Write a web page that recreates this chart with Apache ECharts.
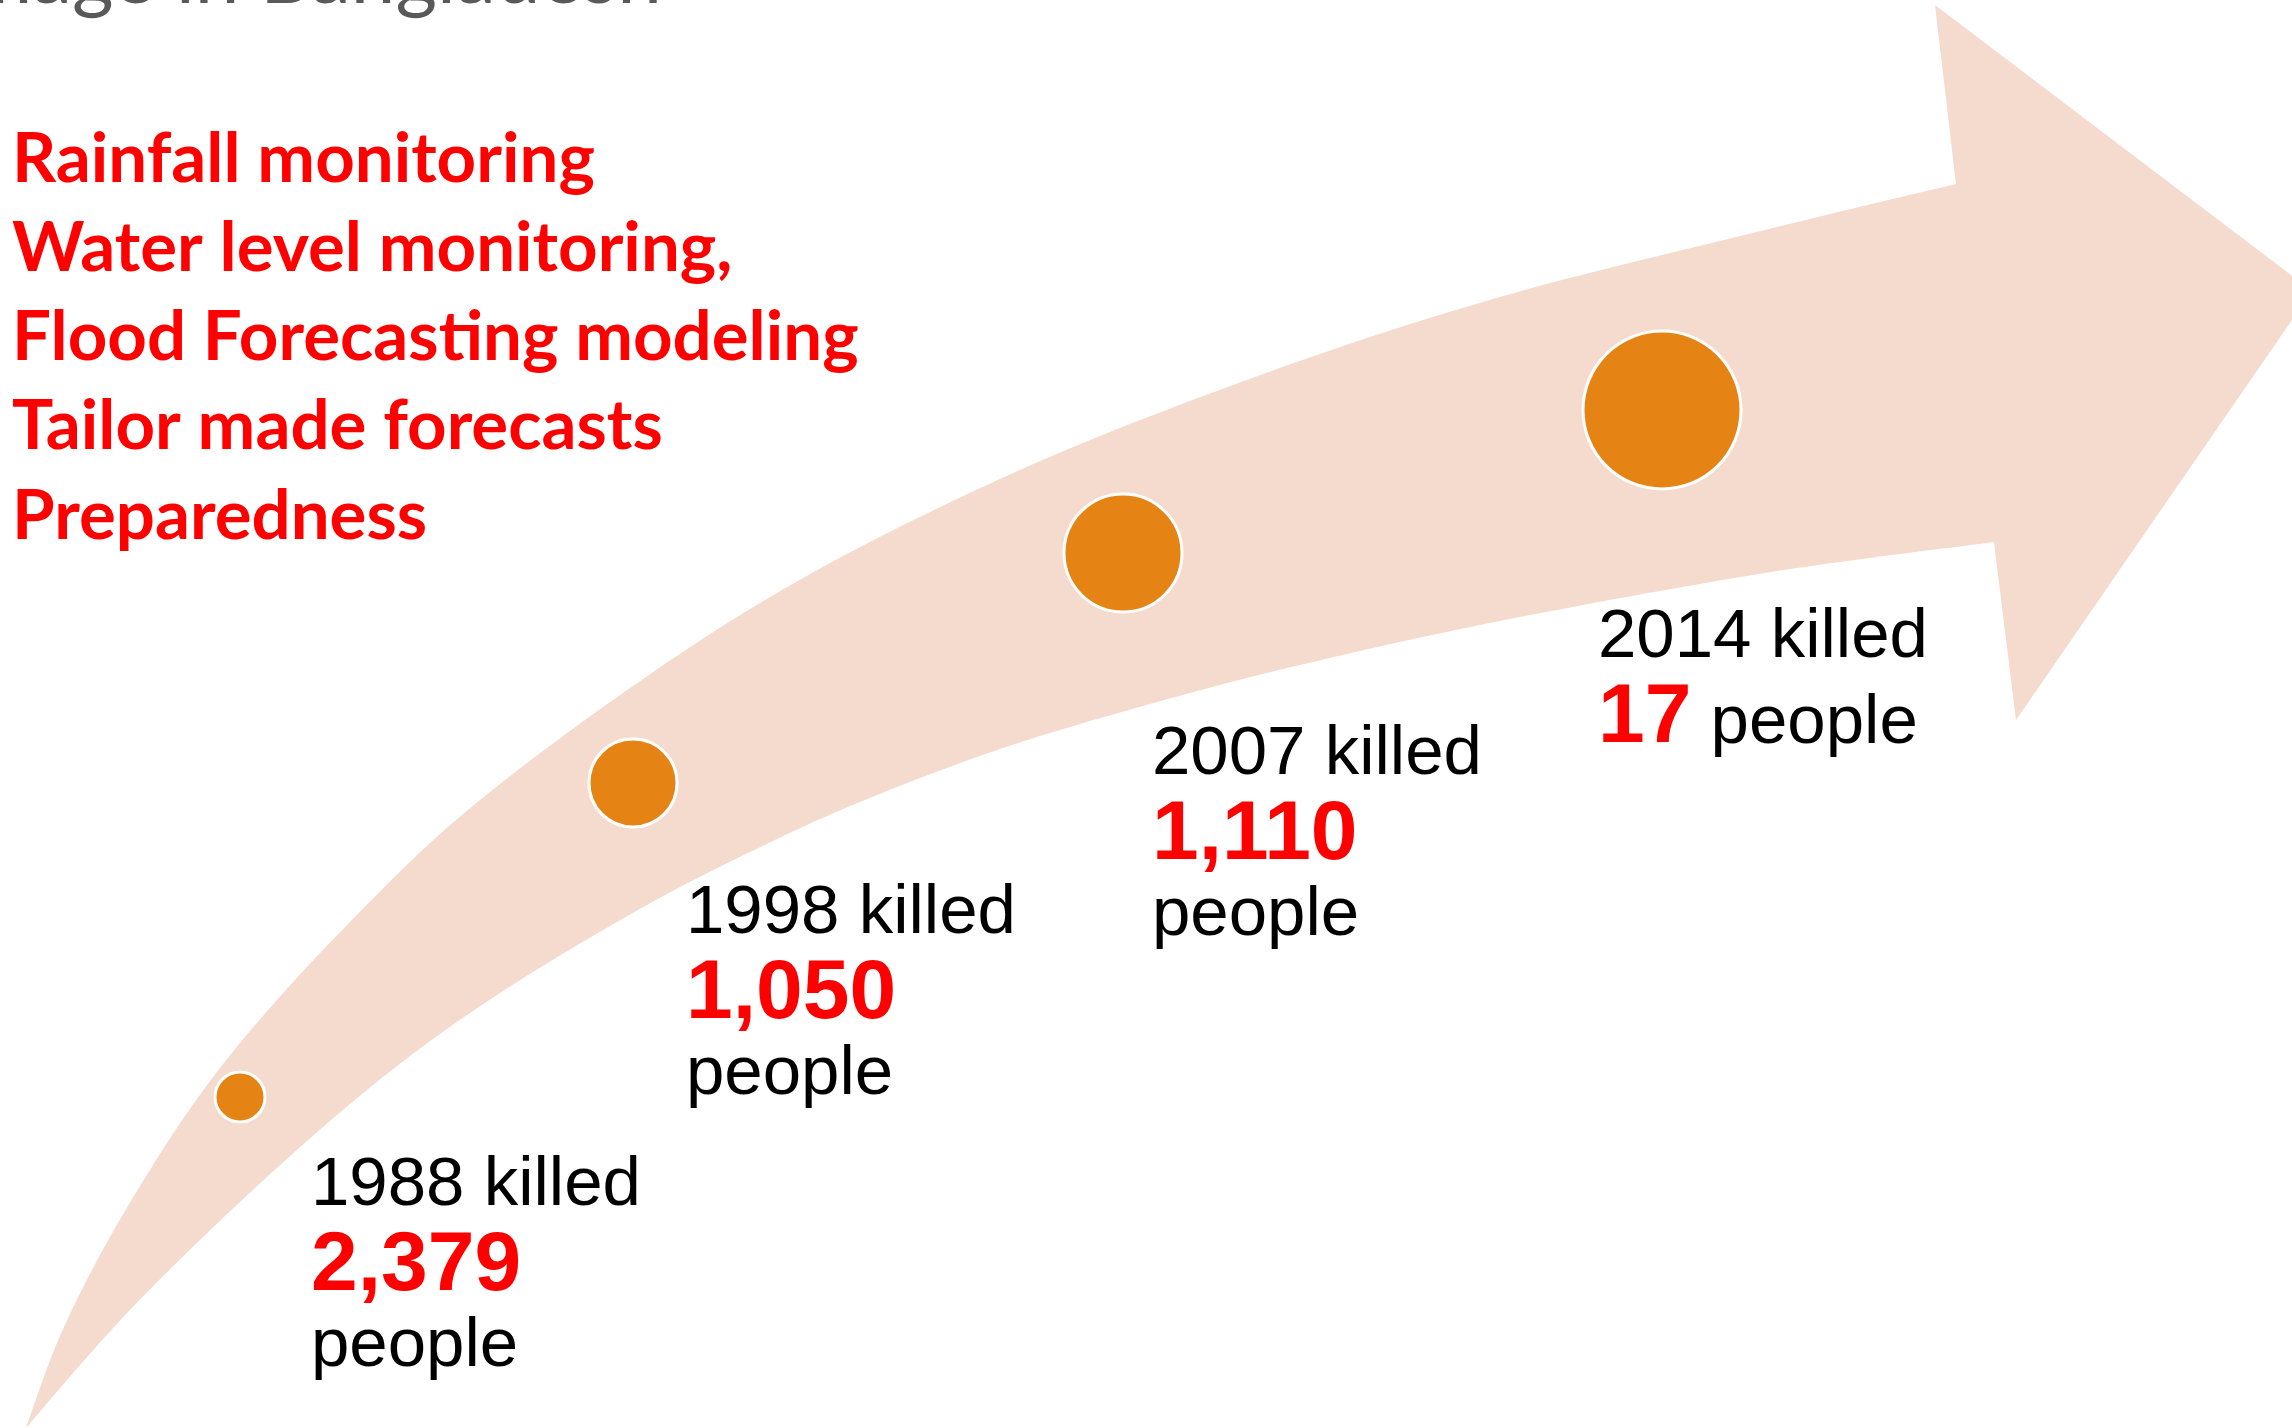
<!DOCTYPE html>
<html>
<head>
<meta charset="utf-8">
<script src="https://cdn.jsdelivr.net/npm/echarts@6/dist/echarts.min.js"></script>
<style>
html,body{margin:0;padding:0;background:#fff;}
#chart{width:2292px;height:1428px;}
</style>
</head>
<body>
<div id="chart"></div>
<script>
// ---- data ----
const YEARS = [1988, 1998, 2007, 2014];
const DEATHS = [2379, 1050, 1110, 17];
const MEASURES = ['Rainfall monitoring', 'Water level monitoring,', 'Flood Forecasting modeling', 'Tailor made forecasts', 'Preparedness'];
const TITLE_TEXT = 'Flood Damage in Bangladesh';

// ---- layout (pixel space of the slide) ----
const DOT_X = [240, 633, 1123, 1662];
const DOT_Y = [1097, 783, 553, 410];
const DOT_D = [50, 88, 118, 158];
const LABEL_X = [311, 686, 1152, 1598];
const LABEL_Y = [1210, 938, 779, 662];
const LABEL_INLINE = [false, false, false, true];

const SHAFT_UPPER = [[26,1428],[64,1327],[128,1206],[220,1068],[350,922],[500,784],[750,609],[1000,479],[1255,377],[1500,297],[1765,230],[1956,184]];
const HEAD = [[1935,5],[2312,291],[2016,720]];
const SHAFT_LOWER = [[26,1428],[128,1312],[255,1188],[383,1077],[500,993],[638,910],[750,852],[860,802],[1000,749],[1150,704],[1300,665],[1500,621],[1765,573],[1994,542]];

// ---- styles ----
const BAND = '#F5DACE';
const ORANGE = '#E58414';
const RED = '#FF0000';
const SANS = '"Liberation Sans", Arial, sans-serif';
const CAL = 'Lato, "Open Sans", sans-serif';
const K_ARIAL = 0.3465;
const K_LATO = 0.387;
const F_LINE = 69, F_NUM = 84;

const mctx = document.createElement('canvas').getContext('2d');
function measure(text, font) { mctx.font = font; return mctx.measureText(text).width; }
function fmt(n) { return n.toLocaleString('en-US'); }

// Catmull-Rom spline through points -> cubic bezier path commands
function splineCmds(pts) {
  let d = '';
  for (let i = 0; i < pts.length - 1; i++) {
    const p0 = pts[i - 1] || pts[i], p1 = pts[i], p2 = pts[i + 1], p3 = pts[i + 2] || pts[i + 1];
    const c1 = [p1[0] + (p2[0] - p0[0]) / 6, p1[1] + (p2[1] - p0[1]) / 6];
    const c2 = [p2[0] - (p3[0] - p1[0]) / 6, p2[1] - (p3[1] - p1[1]) / 6];
    d += ' C' + c1[0].toFixed(2) + ',' + c1[1].toFixed(2) + ' ' + c2[0].toFixed(2) + ',' + c2[1].toFixed(2) + ' ' + p2[0].toFixed(2) + ',' + p2[1].toFixed(2);
  }
  return d;
}

const chart = echarts.init(document.getElementById('chart'), null, {renderer: 'canvas'});

const graphics = [];
graphics.push({
  type: 'text', x: 662, y: 8 - K_LATO * 80, z: 10,
  style: {text: TITLE_TEXT, font: '80px ' + CAL, fill: '#595959', align: 'right', verticalAlign: 'middle'}
});
const MEAS_SIZE = 69;
MEASURES.forEach((t, i) => {
  const base = 186 + i * 89.3;
  graphics.push({
    type: 'text', x: 12, y: base - K_LATO * MEAS_SIZE, z: 10,
    style: {text: t, font: 'bold ' + MEAS_SIZE + 'px ' + CAL, fill: RED, align: 'left', verticalAlign: 'middle'}
  });
});

const option = {
  animation: false,
  backgroundColor: '#ffffff',
  grid: {left: 0, right: 0, top: 0, bottom: 0},
  xAxis: {type: 'value', min: 0, max: 2292, show: false},
  yAxis: {type: 'value', min: 0, max: 1428, inverse: true, show: false},
  graphic: graphics,
  series: [
    {
      type: 'custom', name: 'arrow', silent: true, z: 1,
      data: [[0, 0]],
      renderItem: function (params, api) {
        const up = SHAFT_UPPER.map(p => api.coord(p));
        const head = HEAD.map(p => api.coord(p));
        const low = SHAFT_LOWER.slice().reverse().map(p => api.coord(p));
        let d = 'M' + up[0][0] + ',' + up[0][1] + splineCmds(up);
        head.forEach(p => { d += ' L' + p[0] + ',' + p[1]; });
        d += ' L' + low[0][0] + ',' + low[0][1] + splineCmds(low) + ' Z';
        return {type: 'path', shape: {pathData: d}, style: {fill: BAND}};
      }
    },
    {
      type: 'scatter', name: 'dots', z: 3, silent: true,
      data: YEARS.map((y, i) => [DOT_X[i], DOT_Y[i], y]),
      symbol: 'circle',
      symbolSize: function (v, p) { return DOT_D[p.dataIndex]; },
      itemStyle: {color: ORANGE, borderColor: '#ffffff', borderWidth: 3, opacity: 1}
    },
    {
      type: 'custom', name: 'labels', z: 5, silent: true,
      data: YEARS.map((y, i) => [LABEL_X[i], LABEL_Y[i], y, DEATHS[i]]),
      renderItem: function (params, api) {
        const i = params.dataIndex;
        const p = api.coord([api.value(0), api.value(1)]);
        const year = api.value(2), deaths = api.value(3);
        const lineFont = F_LINE + 'px ' + SANS;
        const numFont = 'bold ' + F_NUM + 'px ' + SANS;
        const numBase = p[1] + 86;
        const children = [
          {type: 'text', x: p[0], y: p[1] - K_ARIAL * F_LINE,
           style: {text: year + ' killed', font: lineFont, fill: '#000000', align: 'left', verticalAlign: 'middle'}},
          {type: 'text', x: p[0], y: numBase - K_ARIAL * F_NUM,
           style: {text: fmt(deaths), font: numFont, fill: RED, align: 'left', verticalAlign: 'middle'}}
        ];
        if (LABEL_INLINE[i]) {
          const px = p[0] + measure(fmt(deaths), numFont) + measure(' ', lineFont);
          children.push({type: 'text', x: px, y: numBase - K_ARIAL * F_LINE,
            style: {text: 'people', font: lineFont, fill: '#000000', align: 'left', verticalAlign: 'middle'}});
        } else {
          children.push({type: 'text', x: p[0], y: numBase + 75 - K_ARIAL * F_LINE,
            style: {text: 'people', font: lineFont, fill: '#000000', align: 'left', verticalAlign: 'middle'}});
        }
        return {type: 'group', children: children};
      }
    }
  ]
};
chart.setOption(option);
</script>
</body>
</html>
